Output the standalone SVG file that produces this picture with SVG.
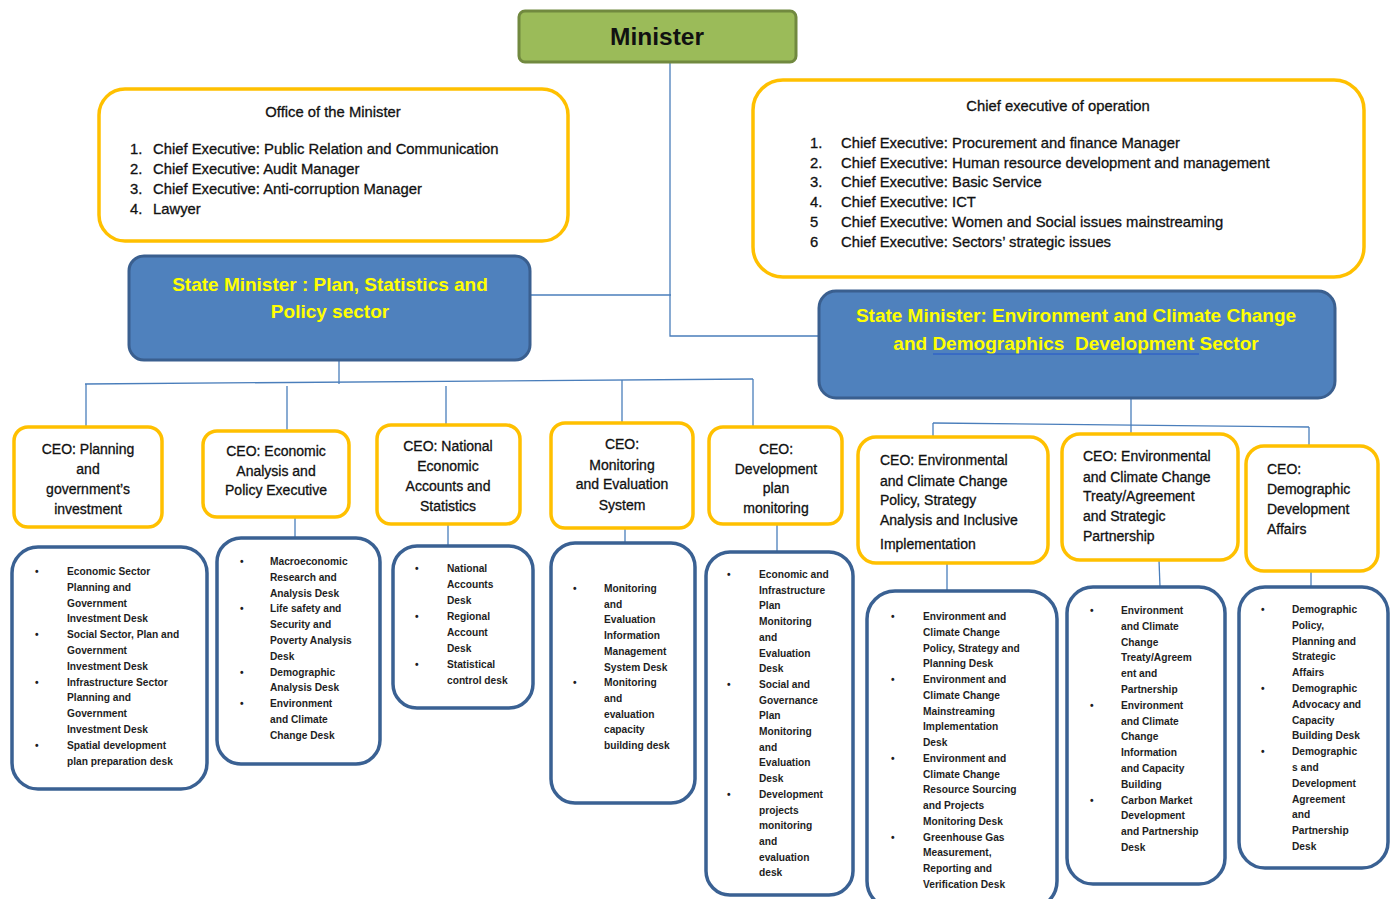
<svg xmlns="http://www.w3.org/2000/svg" width="1395" height="899" viewBox="0 0 1395 899">
<style>
.bg{fill:#ffffff}
.org{fill:#ffffff;stroke:#FFC000;stroke-width:3.5}
.sm{fill:#4F81BD;stroke:#3A5F8F;stroke-width:3}
.desk{fill:#ffffff;stroke:#3A6193;stroke-width:3.5}
.con{stroke:#4A7EBB;stroke-width:1.3;fill:none}
.t{font-family:"Liberation Sans",Arial,sans-serif;fill:#111111;stroke:#111111;stroke-width:0.3}
.top{font-size:14.8px}
.ceo{font-size:14px}
.smt{font-family:"Liberation Sans",Arial,sans-serif;font-size:19px;font-weight:bold;fill:#FFFF00}
.d{font-family:"Liberation Sans",Arial,sans-serif;font-size:10.2px;font-weight:bold;fill:#1e1e1e}
</style>
<rect class="bg" x="0" y="0" width="1395" height="899"/>

<g id="connectors">
<polyline class="con" points="670,62 670,336 819,336"/>
<line class="con" x1="530" y1="295" x2="671" y2="295"/>
<line class="con" x1="339" y1="360" x2="339" y2="384"/>
<line class="con" x1="85" y1="384" x2="753" y2="379"/>
<line class="con" x1="86" y1="384" x2="86" y2="427"/>
<line class="con" x1="287" y1="386" x2="287" y2="431"/>
<line class="con" x1="446" y1="386" x2="446" y2="425"/>
<line class="con" x1="622" y1="380" x2="622" y2="423"/>
<line class="con" x1="753" y1="379" x2="753" y2="427"/>
<line class="con" x1="1131" y1="398" x2="1131" y2="434"/>
<line class="con" x1="933" y1="423" x2="1309" y2="427"/>
<line class="con" x1="933" y1="423" x2="933" y2="437"/>
<line class="con" x1="1309" y1="427" x2="1309" y2="446"/>
<line class="con" x1="295" y1="517" x2="295" y2="538"/>
<line class="con" x1="448" y1="524" x2="448" y2="546"/>
<line class="con" x1="625" y1="528" x2="625" y2="543"/>
<line class="con" x1="777" y1="524" x2="777" y2="552"/>
<line class="con" x1="947" y1="563" x2="947" y2="591"/>
<line class="con" x1="1159" y1="560" x2="1160" y2="587"/>
<line class="con" x1="1311" y1="571" x2="1311" y2="587"/>
</g>

<g id="minister">
<rect x="519" y="11" width="277" height="51" rx="6" fill="#9BBB59" stroke="#71893F" stroke-width="3"/>
<text x="657" y="45" text-anchor="middle" font-family="Liberation Sans, Arial, sans-serif" font-size="24.5" font-weight="bold" fill="#111111">Minister</text>
</g>

<g id="office">
<rect class="org" x="99" y="89" width="469" height="152" rx="26"/>
<text class="t top" x="333" y="117" text-anchor="middle">Office of the Minister</text>
<text class="t top" x="130" y="154">1.</text><text class="t top" x="153" y="154">Chief Executive: Public Relation and Communication</text>
<text class="t top" x="130" y="174">2.</text><text class="t top" x="153" y="174">Chief Executive: Audit Manager</text>
<text class="t top" x="130" y="194">3.</text><text class="t top" x="153" y="194">Chief Executive: Anti-corruption Manager</text>
<text class="t top" x="130" y="214">4.</text><text class="t top" x="153" y="214">Lawyer</text>
</g>

<g id="operation">
<rect class="org" x="753" y="80" width="611" height="197" rx="30"/>
<text class="t top" x="1058" y="111" text-anchor="middle">Chief executive of operation</text>
<text class="t top" x="810" y="148">1.</text><text class="t top" x="841" y="148">Chief Executive: Procurement and finance Manager</text>
<text class="t top" x="810" y="168">2.</text><text class="t top" x="841" y="168">Chief Executive: Human resource development and management</text>
<text class="t top" x="810" y="187">3.</text><text class="t top" x="841" y="187">Chief Executive: Basic Service</text>
<text class="t top" x="810" y="207">4.</text><text class="t top" x="841" y="207">Chief Executive: ICT</text>
<text class="t top" x="810" y="227">5</text><text class="t top" x="841" y="227">Chief Executive: Women and Social issues mainstreaming</text>
<text class="t top" x="810" y="247">6</text><text class="t top" x="841" y="247">Chief Executive: Sectors’ strategic issues</text>
</g>

<g id="sm-plan">
<rect class="sm" x="129" y="256" width="401" height="104" rx="15"/>
<text class="smt" x="330" y="291" text-anchor="middle">State Minister : Plan, Statistics and</text>
<text class="smt" x="330" y="318" text-anchor="middle">Policy sector</text>
</g>

<g id="sm-env">
<rect class="sm" x="819" y="291" width="516" height="107" rx="17"/>
<text class="smt" x="1076" y="322" text-anchor="middle">State Minister: Environment and Climate Change</text>
<text class="smt" x="1076" y="350" text-anchor="middle" xml:space="preserve">and Demographics  Development Sector</text>
<line x1="933" y1="354" x2="1199" y2="354" stroke="#2255CC" stroke-width="1"/>
</g>

<g id="ceo-planning">
<rect class="org" x="14" y="427" width="148" height="100" rx="14"/>
<text class="t ceo" text-anchor="middle"><tspan x="88" y="454">CEO: Planning</tspan><tspan x="88" y="474">and</tspan><tspan x="88" y="494">government’s</tspan><tspan x="88" y="514">investment</tspan></text>
</g>
<g id="ceo-economic">
<rect class="org" x="203" y="431" width="146" height="86" rx="14"/>
<text class="t ceo" text-anchor="middle"><tspan x="276" y="456">CEO: Economic</tspan><tspan x="276" y="476">Analysis and</tspan><tspan x="276" y="495">Policy Executive</tspan></text>
</g>
<g id="ceo-national">
<rect class="org" x="377" y="425" width="143" height="99" rx="14"/>
<text class="t ceo" text-anchor="middle"><tspan x="448" y="451">CEO: National</tspan><tspan x="448" y="471">Economic</tspan><tspan x="448" y="491">Accounts and</tspan><tspan x="448" y="511">Statistics</tspan></text>
</g>
<g id="ceo-monitoring">
<rect class="org" x="551" y="423" width="142" height="105" rx="14"/>
<text class="t ceo" text-anchor="middle"><tspan x="622" y="449">CEO:</tspan><tspan x="622" y="470">Monitoring</tspan><tspan x="622" y="489">and Evaluation</tspan><tspan x="622" y="510">System</tspan></text>
</g>
<g id="ceo-devplan">
<rect class="org" x="709" y="427" width="133" height="97" rx="14"/>
<text class="t ceo" text-anchor="middle"><tspan x="776" y="454">CEO:</tspan><tspan x="776" y="474">Development</tspan><tspan x="776" y="493">plan</tspan><tspan x="776" y="513">monitoring</tspan></text>
</g>
<g id="ceo-envpolicy">
<rect class="org" x="858" y="437" width="190" height="126" rx="18"/>
<text class="t ceo"><tspan x="880" y="465">CEO: Environmental</tspan><tspan x="880" y="486">and Climate Change</tspan><tspan x="880" y="505">Policy, Strategy</tspan><tspan x="880" y="525">Analysis and Inclusive</tspan><tspan x="880" y="549">Implementation</tspan></text>
</g>
<g id="ceo-envtreaty">
<rect class="org" x="1062" y="434" width="176" height="126" rx="18"/>
<text class="t ceo"><tspan x="1083" y="461">CEO: Environmental</tspan><tspan x="1083" y="482">and Climate Change</tspan><tspan x="1083" y="501">Treaty/Agreement</tspan><tspan x="1083" y="521">and Strategic</tspan><tspan x="1083" y="541">Partnership</tspan></text>
</g>
<g id="ceo-demographic">
<rect class="org" x="1246" y="446" width="132" height="125" rx="18"/>
<text class="t ceo"><tspan x="1267" y="474">CEO:</tspan><tspan x="1267" y="494">Demographic</tspan><tspan x="1267" y="514">Development</tspan><tspan x="1267" y="534">Affairs</tspan></text>
</g>

<g id="desk-planning">
<rect class="desk" x="12" y="547" width="195" height="242" rx="26"/>
<text class="d"><tspan x="67" y="575">Economic Sector</tspan><tspan x="67" dy="15.8">Planning and</tspan><tspan x="67" dy="15.8">Government</tspan><tspan x="67" dy="15.8">Investment Desk</tspan><tspan x="67" dy="15.8">Social Sector, Plan and</tspan><tspan x="67" dy="15.8">Government</tspan><tspan x="67" dy="15.8">Investment Desk</tspan><tspan x="67" dy="15.8">Infrastructure Sector</tspan><tspan x="67" dy="15.8">Planning and</tspan><tspan x="67" dy="15.8">Government</tspan><tspan x="67" dy="15.8">Investment Desk</tspan><tspan x="67" dy="15.8">Spatial development</tspan><tspan x="67" dy="15.8">plan preparation desk</tspan></text>
<text class="d"><tspan x="35" y="575">•</tspan><tspan x="35" y="638.2">•</tspan><tspan x="35" y="685.6">•</tspan><tspan x="35" y="748.8">•</tspan></text>
</g>

<g id="desk-economic">
<rect class="desk" x="217" y="538" width="163" height="226" rx="24"/>
<text class="d"><tspan x="270" y="565">Macroeconomic</tspan><tspan x="270" dy="15.8">Research and</tspan><tspan x="270" dy="15.8">Analysis Desk</tspan><tspan x="270" dy="15.8">Life safety and</tspan><tspan x="270" dy="15.8">Security and</tspan><tspan x="270" dy="15.8">Poverty Analysis</tspan><tspan x="270" dy="15.8">Desk</tspan><tspan x="270" dy="15.8">Demographic</tspan><tspan x="270" dy="15.8">Analysis Desk</tspan><tspan x="270" dy="15.8">Environment</tspan><tspan x="270" dy="15.8">and Climate</tspan><tspan x="270" dy="15.8">Change Desk</tspan></text>
<text class="d"><tspan x="240" y="565">•</tspan><tspan x="240" y="612.4">•</tspan><tspan x="240" y="675.6">•</tspan><tspan x="240" y="707.2">•</tspan></text>
</g>

<g id="desk-national">
<rect class="desk" x="393" y="546" width="140" height="162" rx="24"/>
<text class="d"><tspan x="447" y="572">National</tspan><tspan x="447" dy="16">Accounts</tspan><tspan x="447" dy="16">Desk</tspan><tspan x="447" dy="16">Regional</tspan><tspan x="447" dy="16">Account</tspan><tspan x="447" dy="16">Desk</tspan><tspan x="447" dy="16">Statistical</tspan><tspan x="447" dy="16">control desk</tspan></text>
<text class="d"><tspan x="415" y="572">•</tspan><tspan x="415" y="620">•</tspan><tspan x="415" y="668">•</tspan></text>
</g>

<g id="desk-monitoring">
<rect class="desk" x="551" y="543" width="144" height="260" rx="24"/>
<text class="d"><tspan x="604" y="592">Monitoring</tspan><tspan x="604" dy="15.7">and</tspan><tspan x="604" dy="15.7">Evaluation</tspan><tspan x="604" dy="15.7">Information</tspan><tspan x="604" dy="15.7">Management</tspan><tspan x="604" dy="15.7">System Desk</tspan><tspan x="604" dy="15.7">Monitoring</tspan><tspan x="604" dy="15.7">and</tspan><tspan x="604" dy="15.7">evaluation</tspan><tspan x="604" dy="15.7">capacity</tspan><tspan x="604" dy="15.7">building desk</tspan></text>
<text class="d"><tspan x="573" y="592">•</tspan><tspan x="573" y="686.2">•</tspan></text>
</g>

<g id="desk-devplan">
<rect class="desk" x="706" y="552" width="147" height="343" rx="24"/>
<text class="d"><tspan x="759" y="578">Economic and</tspan><tspan x="759" dy="15.7">Infrastructure</tspan><tspan x="759" dy="15.7">Plan</tspan><tspan x="759" dy="15.7">Monitoring</tspan><tspan x="759" dy="15.7">and</tspan><tspan x="759" dy="15.7">Evaluation</tspan><tspan x="759" dy="15.7">Desk</tspan><tspan x="759" dy="15.7">Social and</tspan><tspan x="759" dy="15.7">Governance</tspan><tspan x="759" dy="15.7">Plan</tspan><tspan x="759" dy="15.7">Monitoring</tspan><tspan x="759" dy="15.7">and</tspan><tspan x="759" dy="15.7">Evaluation</tspan><tspan x="759" dy="15.7">Desk</tspan><tspan x="759" dy="15.7">Development</tspan><tspan x="759" dy="15.7">projects</tspan><tspan x="759" dy="15.7">monitoring</tspan><tspan x="759" dy="15.7">and</tspan><tspan x="759" dy="15.7">evaluation</tspan><tspan x="759" dy="15.7">desk</tspan></text>
<text class="d"><tspan x="727" y="578">•</tspan><tspan x="727" y="687.9">•</tspan><tspan x="727" y="797.8">•</tspan></text>
</g>

<g id="desk-envpolicy">
<rect class="desk" x="867" y="591" width="190" height="318" rx="28"/>
<text class="d"><tspan x="923" y="620">Environment and</tspan><tspan x="923" dy="15.76">Climate Change</tspan><tspan x="923" dy="15.76">Policy, Strategy and</tspan><tspan x="923" dy="15.76">Planning Desk</tspan><tspan x="923" dy="15.76">Environment and</tspan><tspan x="923" dy="15.76">Climate Change</tspan><tspan x="923" dy="15.76">Mainstreaming</tspan><tspan x="923" dy="15.76">Implementation</tspan><tspan x="923" dy="15.76">Desk</tspan><tspan x="923" dy="15.76">Environment and</tspan><tspan x="923" dy="15.76">Climate Change</tspan><tspan x="923" dy="15.76">Resource Sourcing</tspan><tspan x="923" dy="15.76">and Projects</tspan><tspan x="923" dy="15.76">Monitoring Desk</tspan><tspan x="923" dy="15.76">Greenhouse Gas</tspan><tspan x="923" dy="15.76">Measurement,</tspan><tspan x="923" dy="15.76">Reporting and</tspan><tspan x="923" dy="15.76">Verification Desk</tspan></text>
<text class="d"><tspan x="891" y="620">•</tspan><tspan x="891" y="683">•</tspan><tspan x="891" y="761.8">•</tspan><tspan x="891" y="840.6">•</tspan></text>
</g>

<g id="desk-envtreaty">
<rect class="desk" x="1067" y="587" width="158" height="297" rx="26"/>
<text class="d"><tspan x="1121" y="614">Environment</tspan><tspan x="1121" dy="15.8">and Climate</tspan><tspan x="1121" dy="15.8">Change</tspan><tspan x="1121" dy="15.8">Treaty/Agreem</tspan><tspan x="1121" dy="15.8">ent and</tspan><tspan x="1121" dy="15.8">Partnership</tspan><tspan x="1121" dy="15.8">Environment</tspan><tspan x="1121" dy="15.8">and Climate</tspan><tspan x="1121" dy="15.8">Change</tspan><tspan x="1121" dy="15.8">Information</tspan><tspan x="1121" dy="15.8">and Capacity</tspan><tspan x="1121" dy="15.8">Building</tspan><tspan x="1121" dy="15.8">Carbon Market</tspan><tspan x="1121" dy="15.8">Development</tspan><tspan x="1121" dy="15.8">and Partnership</tspan><tspan x="1121" dy="15.8">Desk</tspan></text>
<text class="d"><tspan x="1090" y="614">•</tspan><tspan x="1090" y="708.8">•</tspan><tspan x="1090" y="803.6">•</tspan></text>
</g>

<g id="desk-demographic">
<rect class="desk" x="1239" y="587" width="149" height="281" rx="26"/>
<text class="d"><tspan x="1292" y="613">Demographic</tspan><tspan x="1292" dy="15.8">Policy,</tspan><tspan x="1292" dy="15.8">Planning and</tspan><tspan x="1292" dy="15.8">Strategic</tspan><tspan x="1292" dy="15.8">Affairs</tspan><tspan x="1292" dy="15.8">Demographic</tspan><tspan x="1292" dy="15.8">Advocacy and</tspan><tspan x="1292" dy="15.8">Capacity</tspan><tspan x="1292" dy="15.8">Building Desk</tspan><tspan x="1292" dy="15.8">Demographic</tspan><tspan x="1292" dy="15.8">s and</tspan><tspan x="1292" dy="15.8">Development</tspan><tspan x="1292" dy="15.8">Agreement</tspan><tspan x="1292" dy="15.8">and</tspan><tspan x="1292" dy="15.8">Partnership</tspan><tspan x="1292" dy="15.8">Desk</tspan></text>
<text class="d"><tspan x="1261" y="613">•</tspan><tspan x="1261" y="692">•</tspan><tspan x="1261" y="755.2">•</tspan></text>
</g>
</svg>
